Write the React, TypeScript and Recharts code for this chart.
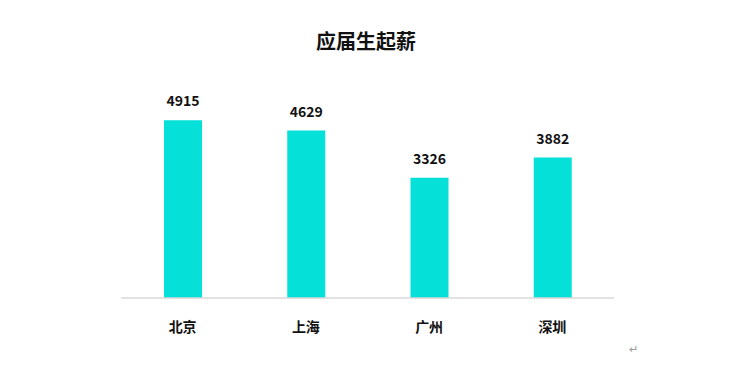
import { BarChart, Bar, XAxis, YAxis, LabelList } from 'recharts';

const cities = ['北京', '上海', '广州', '深圳'];
const salaries = [4915, 4629, 3326, 3882];

const data = cities.map((name, i) => ({ name, value: salaries[i] }));

const FONT = '"Noto Sans CJK SC", "Noto Sans", sans-serif';

export default function App() {
  return (
    <div style={{ position: 'absolute', left: 0, top: 0, width: 750, height: 375, background: '#fff', fontFamily: FONT }}>
      <div
        style={{
          position: 'absolute',
          top: 26,
          left: 0,
          width: 732,
          textAlign: 'center',
          fontSize: 20,
          fontWeight: 700,
          color: '#111',
          lineHeight: '30px',
        }}
      >
        应届生起薪
      </div>
      <BarChart
        width={750}
        height={375}
        data={data}
        margin={{ top: 81, right: 136, left: 121, bottom: 37 }}
      >
        <YAxis hide domain={[0, 6000]} />
        <XAxis
          dataKey="name"
          height={40}
          axisLine={{ stroke: '#d9d9d9', strokeWidth: 1.5 }}
          tickLine={false}
          tickSize={0}
          tickMargin={24}
          tick={{ fontSize: 14, fontWeight: 700, fill: '#111', fontFamily: FONT }}
        />
        <Bar dataKey="value" fill="#05e0d9" barSize={38} isAnimationActive={false}>
          <LabelList
            dataKey="value"
            position="top"
            offset={14}
            style={{ fontSize: 14, fontWeight: 700, fill: '#111', fontFamily: FONT }}
          />
        </Bar>
      </BarChart>
      <div style={{ position: 'absolute', left: 629, top: 340, fontSize: 11, color: '#999' }}>↵</div>
    </div>
  );
}
